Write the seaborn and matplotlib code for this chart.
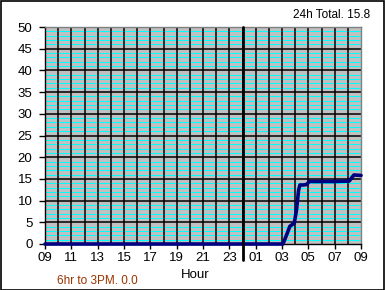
import matplotlib
matplotlib.use("Agg")
import matplotlib.pyplot as plt
import seaborn as sns
import numpy as np
import pandas as pd
from matplotlib.patches import Rectangle

hours = [0, 18.07, 18.3, 18.6, 18.93, 19.1, 19.26, 19.36, 19.6, 19.87, 20.07, 22.0, 23.1, 23.46, 24]
rain = [0, 0, 1.7, 4.1, 4.8, 7.8, 12.4, 13.6, 13.6, 13.7, 14.4, 14.4, 14.5, 15.9, 15.8]
tick_labels = ["09", "11", "13", "15", "17", "19", "21", "23", "01", "03", "05", "07", "09"]
total_text = "24h Total. 15.8"
day_text = "6hr to 3PM. 0.0"

sns.set_theme(style="white")
plt.rcParams['font.family'] = ['Liberation Sans', 'DejaVu Sans']

fig = plt.figure(figsize=(3.85, 2.9), dpi=100)
ax = fig.add_axes([45/385, 46/290, 316/385, 217/290])
ax.set_facecolor("#C0C0C0")

df = pd.DataFrame({"hour": hours, "rain": rain})

# cyan minor lines
for v in range(1, 50):
    if v % 5:
        ax.axhline(v, color="#00FFFF", lw=0.75, zorder=1)
for v in range(5, 50, 5):
    ax.axhline(v, color="black", lw=1.1, zorder=2)
for h in range(1, 24):
    ax.axvline(h, color="black", lw=1.1, zorder=2)

sns.lineplot(data=df, x="hour", y="rain", ax=ax, color="#000080", lw=2.6, zorder=4,
             clip_on=False)

ax.axvline(15, ymin=-0.074, ymax=1, color="black", lw=2.0, zorder=5, clip_on=False)

ax.set_xlim(0, 24)
ax.set_ylim(0, 50)
ax.set_xticks(range(0, 25, 2))
ax.set_xticklabels(tick_labels)
ax.set_yticks(range(0, 51, 5))
ax.tick_params(axis="both", which="both", width=1, color="black",
               labelsize=9.5, labelcolor="black", direction="out")
ax.tick_params(axis="x", bottom=True, length=3.5, pad=2.5)
ax.tick_params(axis="y", left=True, length=4.5, pad=4.5)
ax.set_xlabel("")
ax.set_ylabel("")
for s in ["top", "right"]:
    ax.spines[s].set_color("#808080")
    ax.spines[s].set_linewidth(1)
ax.spines["left"].set_color("black")
ax.spines["bottom"].set_color("black")
ax.spines["left"].set_linewidth(1)
ax.spines["bottom"].set_linewidth(1)

fig.text(370/385, 1 - 15/290, total_text, ha="right", va="center", fontsize=8.5, color="black")
fig.text(195/385, 1 - 275/290, "Hour", ha="center", va="center", fontsize=9.5, color="black")
fig.text(57/385, 1 - 281/290, day_text, ha="left", va="center", fontsize=8.5, color="#993300")

fig.patches.append(Rectangle((0.5/385, 0.5/290), 1 - 1.5/385, 1 - 1.5/290, transform=fig.transFigure,
                             fill=False, edgecolor="black", lw=1.2))

fig.savefig("out.png", dpi=100)
